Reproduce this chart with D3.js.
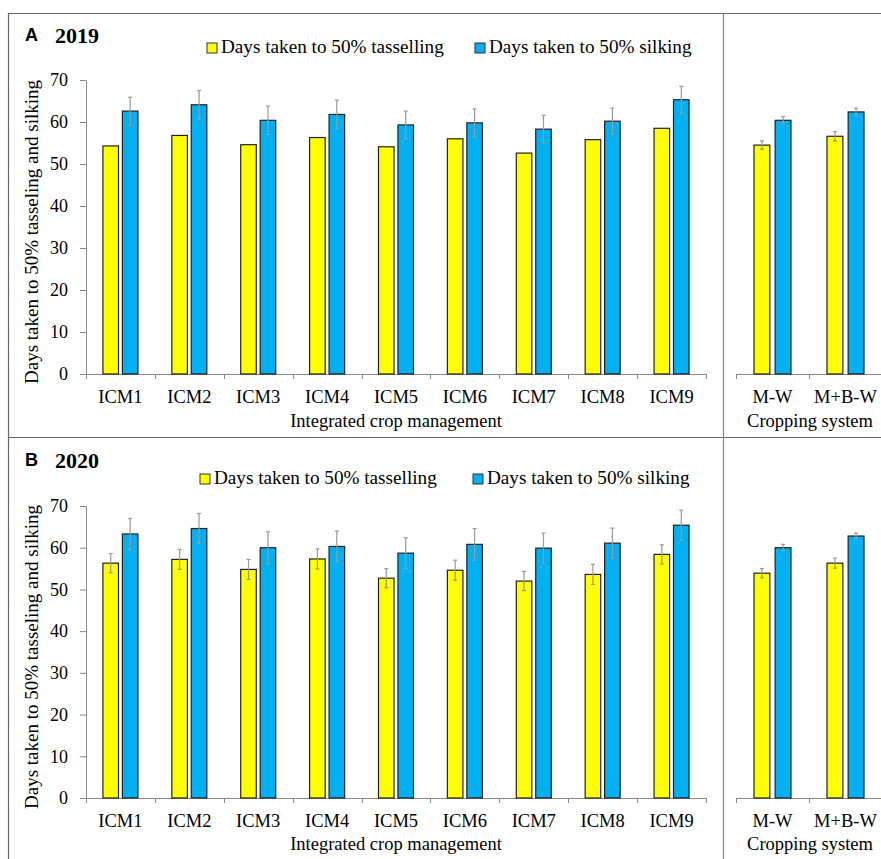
<!DOCTYPE html>
<html><head><meta charset="utf-8">
<script src="https://cdn.jsdelivr.net/npm/d3@7"></script>
<style>
html,body{margin:0;padding:0;background:#fff;}
svg{display:block;}
text{font-family:"Liberation Serif","Times New Roman",serif;fill:#000;}
</style></head>
<body>
<svg id="chart" width="881" height="859"></svg>
<script>
// ---- Data ----
const icmCats = ["ICM1","ICM2","ICM3","ICM4","ICM5","ICM6","ICM7","ICM8","ICM9"];
const csCats = ["M-W","M+B-W"];
const seriesNames = ["Days taken to 50% tasselling","Days taken to 50% silking"];
const yTicks = [0,10,20,30,40,50,60,70];

// 2019 (panel A)
const tassel2019 = [54.3,56.8,54.6,56.3,54.1,56.0,52.6,55.8,58.5];
const tassel2019Err = [null,null,null,null,null,null,null,null,null];
const silk2019 = [62.6,64.1,60.4,61.8,59.3,59.8,58.3,60.2,65.3];
const silk2019Err = [3.3,3.4,3.4,3.4,3.3,3.3,3.3,3.1,3.2];
const csTassel2019 = [54.5,56.6];
const csTassel2019Err = [1.0,1.1];
const csSilk2019 = [60.4,62.4];
const csSilk2019Err = [0.9,0.9];

// 2020 (panel B)
const tassel2020 = [56.3,57.2,54.8,57.3,52.7,54.6,52.0,53.6,58.4];
const tassel2020Err = [2.3,2.4,2.4,2.4,2.3,2.4,2.3,2.4,2.3];
const silk2020 = [63.3,64.6,60.0,60.3,58.7,60.8,59.9,61.1,65.4];
const silk2020Err = [3.7,3.6,3.8,3.7,3.7,3.8,3.6,3.6,3.6];
const csTassel2020 = [53.9,56.3];
const csTassel2020Err = [1.1,1.2];
const csSilk2020 = [60.0,62.8];
const csSilk2020Err = [0.8,0.7];

const colors = ["#FFFF00","#00B0F0"];
const SERIF = "Liberation Serif, Times New Roman, serif";

const svg = d3.select("#chart");

// ---- Frame ----
const frame = svg.append("g").attr("stroke","#666").attr("stroke-width",1.2).attr("fill","none");
frame.append("line").attr("x1",8).attr("x2",881).attr("y1",13.5).attr("y2",13.5);
frame.append("line").attr("x1",8.5).attr("x2",8.5).attr("y1",13).attr("y2",859);
frame.append("line").attr("x1",8).attr("x2",881).attr("y1",437.5).attr("y2",437.5);
frame.append("line").attr("x1",723.5).attr("x2",723.5).attr("y1",13).attr("y2",859).attr("stroke","#888");

function drawPanel(cfg){
  const g = svg.append("g");
  const y = d3.scaleLinear().domain([0,70]).range([cfg.y0, cfg.y70]);

  // header
  g.append("text").attr("x",25).attr("y",cfg.headY).text(cfg.letter)
    .attr("font-family","Liberation Sans, Arial, sans-serif").style("font-family","Liberation Sans, Arial, sans-serif")
    .style("font-weight","bold").style("font-size","18px");
  g.append("text").attr("x",55).attr("y",cfg.headY+2).text(cfg.year)
    .style("font-family",SERIF).style("font-weight","bold").style("font-size","22px");

  // legend
  cfg.legend.forEach((L,i)=>{
    g.append("rect").attr("x",L.x).attr("y",cfg.legY-10).attr("width",10).attr("height",10)
      .attr("fill",colors[i]).attr("stroke","#333").attr("stroke-width",1);
    g.append("text").attr("x",L.x+14).attr("y",cfg.legY).text(seriesNames[i])
      .style("font-family",SERIF).style("font-size","19.2px");
  });

  // y axis
  const ya = g.append("g").attr("transform",`translate(86,0)`)
    .call(d3.axisLeft(y).tickValues(yTicks).tickSize(6).tickSizeOuter(0).tickPadding(12));
  ya.attr("font-family",SERIF).attr("font-size",18);
  ya.selectAll("path,line").attr("stroke","#888");
  ya.selectAll("text").style("font-size","18px").style("font-family",SERIF).attr("fill","#000");

  // y title
  g.append("text").attr("transform",`translate(38,${(cfg.y0+cfg.y70)/2 + 5}) rotate(-90)`)
    .attr("text-anchor","middle").text("Days taken to 50% tasseling and silking")
    .style("font-family",SERIF).style("font-size","19px");

  cfg.groups.forEach(G=>{
    const x = d3.scaleBand().domain(G.cats).range(G.range);
    const bw = x.bandwidth();
    const half = G.half;
    const sub = d3.scaleBand().domain([0,1]).range([bw/2-half, bw/2+half]).paddingInner(G.pad);

    // x axis line + boundary ticks
    const ax = g.append("g").attr("stroke","#888").attr("stroke-width",1);
    ax.append("line").attr("x1",G.range[0]).attr("x2",G.range[1]).attr("y1",cfg.y0+0.5).attr("y2",cfg.y0+0.5);
    const bounds = G.cats.map(c=>x(c)).concat([G.range[1]]);
    ax.selectAll("line.tk").data(bounds).join("line").attr("class","tk")
      .attr("x1",d=>Math.round(d)+0.5).attr("x2",d=>Math.round(d)+0.5)
      .attr("y1",cfg.y0).attr("y2",cfg.y0+5);

    // bars
    G.series.forEach((S,si)=>{
      const bg = g.append("g");
      bg.selectAll("rect").data(S.vals).join("rect")
        .attr("x",(d,i)=>x(G.cats[i])+sub(si))
        .attr("width",sub.bandwidth())
        .attr("y",d=>y(d)).attr("height",d=>cfg.y0-y(d))
        .attr("fill",colors[si]).attr("stroke","#222").attr("stroke-width",1.2);
      // error bars
      const eb = g.append("g").attr("stroke","#999").attr("stroke-width",1.2);
      S.vals.forEach((v,i)=>{
        const e = S.err[i];
        if(e==null) return;
        const cx = x(G.cats[i])+sub(si)+sub.bandwidth()/2;
        eb.append("line").attr("x1",cx).attr("x2",cx).attr("y1",y(v-e)).attr("y2",y(v+e));
        eb.append("line").attr("x1",cx-2).attr("x2",cx+2).attr("y1",y(v+e)).attr("y2",y(v+e));
        eb.append("line").attr("x1",cx-2).attr("x2",cx+2).attr("y1",y(v-e)).attr("y2",y(v-e));
      });
    });

    // x tick labels
    g.selectAll(null).data(G.cats).join("text")
      .attr("x",d=>x(d)+bw/2).attr("y",cfg.labY).attr("text-anchor","middle")
      .text(d=>d).style("font-family",SERIF).style("font-size","18.5px");
    g.append("text").attr("x",G.titleX).attr("y",cfg.titleY).attr("text-anchor","middle")
      .text(G.title).style("font-family",SERIF).style("font-size","18.5px");
  });
}

drawPanel({
  letter:"A", year:"2019", headY:41, legY:53,
  legend:[{x:207},{x:475}],
  y0:374, y70:80, labY:403, titleY:427,
  groups:[
    {cats:icmCats, range:[86,706], half:17.5, pad:0.2, title:"Integrated crop management", titleX:396,
     series:[{vals:tassel2019,err:tassel2019Err},{vals:silk2019,err:silk2019Err}]},
    {cats:csCats, range:[736,882], half:18.5, pad:0.25, title:"Cropping system", titleX:810,
     series:[{vals:csTassel2019,err:csTassel2019Err},{vals:csSilk2019,err:csSilk2019Err}]}
  ]
});
drawPanel({
  letter:"B", year:"2020", headY:466, legY:484,
  legend:[{x:200},{x:473}],
  y0:798, y70:506, labY:827, titleY:850,
  groups:[
    {cats:icmCats, range:[86,706], half:17.5, pad:0.2, title:"Integrated crop management", titleX:396,
     series:[{vals:tassel2020,err:tassel2020Err},{vals:silk2020,err:silk2020Err}]},
    {cats:csCats, range:[736,882], half:18.5, pad:0.25, title:"Cropping system", titleX:810,
     series:[{vals:csTassel2020,err:csTassel2020Err},{vals:csSilk2020,err:csSilk2020Err}]}
  ]
});
</script>
</body></html>
